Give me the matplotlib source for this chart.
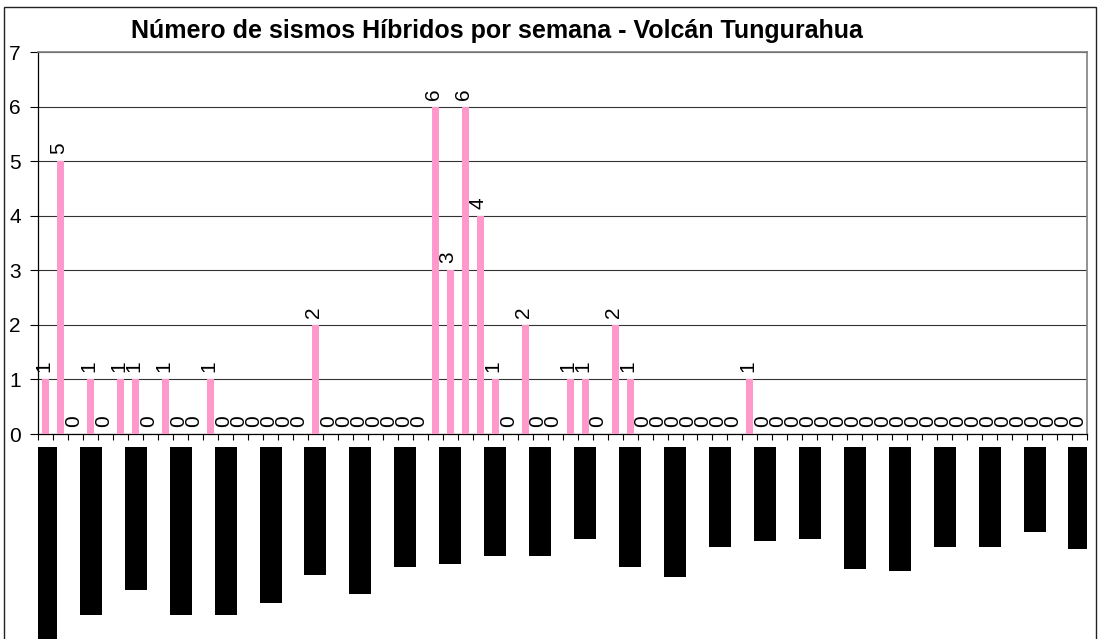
import matplotlib
matplotlib.use('Agg')
import matplotlib.pyplot as plt
from matplotlib.patches import Rectangle

# weekly count of hybrid earthquakes (70 weeks)
hibridos = [1, 5, 0, 1, 0, 1, 1, 0, 1, 0, 0, 1,
            0, 0, 0, 0, 0, 0, 2,
            0, 0, 0, 0, 0, 0, 0,
            6, 3, 6, 4, 1, 0, 2, 0, 0, 1, 1, 0, 2, 1,
            0, 0, 0, 0, 0, 0, 0, 1,
            0, 0, 0, 0, 0, 0, 0, 0, 0, 0, 0,
            0, 0, 0, 0, 0, 0, 0, 0, 0, 0, 0]

# the date labels under the axis came out as solid black blocks;
# one block every 3rd week, lengths
label_weeks = list(range(0, 70, 3))
label_blocks = [19.5, 16.8, 14.3, 16.8, 16.8, 15.6, 12.8, 14.7, 12.0, 11.7, 10.9, 10.9,
                9.2, 12.0, 13.0, 10.0, 9.4, 9.2, 12.2, 12.4, 10.0, 10.0, 8.5, 10.2]

y_ticks = [0, 1, 2, 3, 4, 5, 6, 7]
title = 'Número de sismos Híbridos por semana - Volcán Tungurahua'

plt.rcParams['font.family'] = ['Liberation Sans', 'DejaVu Sans']

W, H = 1099, 639
fig = plt.figure(figsize=(W / 100, H / 100), dpi=100)


def fx(px):
    return px / W


def fy(py):
    return 1 - py / H


left, right, top, base = 38.3, 1087, 52, 434
ax = fig.add_axes([fx(left), fy(base), fx(right - left), (base - top) / H])

x = list(range(len(hibridos)))
ax.bar(x, hibridos, width=0.46, color='#FF99CC', zorder=3)
for i, v in enumerate(hibridos):
    ax.annotate(str(v), (i, v), xytext=(-1.5, 5.0), textcoords='offset points',
                rotation=90, ha='center', va='bottom', fontsize=15, zorder=4)

ax.set_xlim(-0.5, len(hibridos) - 0.5)
ax.set_ylim(0, 7)
ax.set_yticks(y_ticks)
ax.set_yticklabels([str(t) for t in y_ticks])
ax.set_xticks([i - 0.5 for i in range(len(hibridos) + 1)])
ax.set_xticklabels([])
ax.yaxis.grid(True, color='#333333', lw=0.8)
ax.set_axisbelow(True)
ax.tick_params(axis='x', length=4, width=0.8, direction='out', color='black')
ax.tick_params(axis='y', length=6, width=0.8, direction='out', labelsize=15, pad=6.5)

for s in ['left', 'bottom']:
    ax.spines[s].set_color('black')
    ax.spines[s].set_linewidth(0.9)
for s in ['top', 'right']:
    ax.spines[s].set_color('#808080')
    ax.spines[s].set_linewidth(1.2)

# black label blocks below the axis
ax2 = fig.add_axes([fx(left), 0, fx(right - left), (H - 446.7) / H])
ax2.bar(label_weeks, label_blocks, width=1.47, color='black')
ax2.set_xlim(-0.5, len(hibridos) - 0.5)
ax2.set_ylim((H - 446.7) / 10, 0)
ax2.axis('off')

fig.text(fx(496.5), fy(31), title, ha='center', va='center',
         fontsize=18, fontweight='bold')

# chart area frame
fig.add_artist(Rectangle((fx(3.5), fy(650)), fx(1096 - 3.5), (650 - 7) / H,
                         transform=fig.transFigure, fill=False,
                         ec='#222222', lw=1.0))

fig.savefig('out.png', dpi=100)
